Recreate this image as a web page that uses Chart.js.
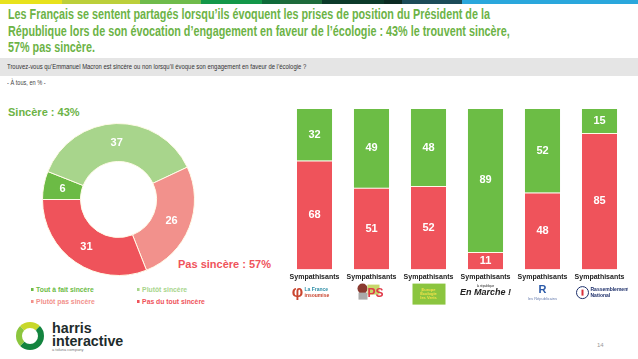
<!DOCTYPE html>
<html>
<head>
<meta charset="utf-8">
<script src="https://cdn.jsdelivr.net/npm/chart.js@4.4.0/dist/chart.umd.min.js"></script>
<style>
body{margin:0;width:638px;height:359px;position:relative;overflow:hidden;background:#fff;font-family:"Liberation Sans",Arial,sans-serif}
.strip{position:absolute;top:0;height:4px}
.sq{position:absolute;transform-origin:0 0;white-space:nowrap}
#title{left:8px;top:6px;color:#6cb346;font-weight:bold;font-size:15px;line-height:16.5px;transform:scaleX(0.72)}
#qbar{position:absolute;left:0;top:58px;width:638px;height:18px;background:#e5e5e5}
#question{left:7px;top:62px;font-size:8px;color:#333;transform:scaleX(0.74)}
#base{left:7px;top:79px;font-size:7px;color:#444;transform:scaleX(0.8)}
#sinc{left:8px;top:106px;font-size:11px;font-weight:bold;color:#6cb346}
#pas{left:178px;top:258px;font-size:11px;font-weight:bold;color:#ef535b}
#legend{position:absolute;left:31px;top:285px;width:230px;font-size:8px;font-weight:bold}
#legend div{position:absolute;white-space:nowrap}
#legend span{display:inline-block;width:3px;height:3px;margin-right:3px;vertical-align:middle}
#pie{position:absolute;left:42px;top:123px;width:153px;height:153px}
#bars{position:absolute;left:286px;top:100px;width:342px;height:215px}
#logo{position:absolute;left:16px;top:322px;width:28px;height:28px;border-radius:50%;box-sizing:border-box;border:6px solid #13843f;border-top-color:#c8d82a;border-left-color:#8cc63e}
#brand{left:52px;top:321px;font-size:15px;font-weight:bold;color:#1d2b2b;line-height:13px;transform:scaleX(0.95)}
#tag{left:52px;top:347px;font-size:4px;color:#777}
#page{left:597px;top:342px;font-size:6px;color:#999}
</style>
</head>
<body>
<div class="strip" style="left:0;width:62px;background:#e8e21c"></div>
<div class="strip" style="left:62px;width:78px;background:#bccf3a"></div>
<div class="strip" style="left:140px;width:61px;background:#6fbb4b"></div>
<div class="strip" style="left:201px;width:61px;background:#139749"></div>
<div class="strip" style="left:262px;width:18px;background:#0f6a3a"></div>
<div class="strip" style="left:280px;width:42px;background:#1e6b3b"></div>
<div class="strip" style="left:322px;width:62px;background:#0c3a2a"></div>
<div class="strip" style="left:384px;width:18px;background:#0b2a22"></div>
<div class="strip" style="left:402px;width:60px;background:#1c4b58"></div>
<div class="strip" style="left:462px;width:176px;background:#2aa7dc"></div>

<div id="title" class="sq">Les Français se sentent partagés lorsqu’ils évoquent les prises de position du Président de la<br>République lors de son évocation d’engagement en faveur de l’écologie : 43% le trouvent sincère,<br>57% pas sincère.</div>
<div id="qbar"></div>
<div id="question" class="sq">Trouvez-vous qu’Emmanuel Macron est sincère ou non lorsqu’il évoque son engagement en faveur de l’écologie ?</div>
<div id="base" class="sq">- À tous, en % -</div>

<div id="sinc" class="sq">Sincère : 43%</div>
<div id="pas" class="sq">Pas sincère : 57%</div>
<canvas id="pie" width="153" height="153"></canvas>
<div id="legend"></div>

<canvas id="bars" width="342" height="215"></canvas>

<div id="logo"></div>
<div id="brand" class="sq">harris<br>interactive</div>
<div id="tag" class="sq">a toluna company</div>
<div id="page" class="sq">14</div>

<script>
// donut: all French people
const pieLabels = ['Tout à fait sincère', 'Plutôt sincère', 'Plutôt pas sincère', 'Pas du tout sincère'];
const pieValues = [6, 37, 26, 31];
const pieColors = ['#6cbb45', '#a8d58c', '#f2918c', '#ef535b'];

// stacked bars by party sympathisers
const barLabels = ['Sympathisants', 'Sympathisants', 'Sympathisants', 'Sympathisants', 'Sympathisants', 'Sympathisants'];
const parties = ['LFI', 'PS', 'EELV', 'LREM', 'LR', 'RN'];
const pasSincere = [68, 51, 52, 11, 48, 85];
const sincere = [32, 49, 48, 89, 52, 15];

const FONT = '"Liberation Sans", Arial, sans-serif';

// legend, two columns
const leg = document.getElementById('legend');
const legPos = [[0, 0], [106, 0], [0, 12], [106, 12]];
pieLabels.forEach((l, i) => {
    const d = document.createElement('div');
    d.style.left = legPos[i][0] + 'px';
    d.style.top = legPos[i][1] + 'px';
    d.style.color = pieColors[i];
    d.style.transform = 'scaleX(0.85)';
    d.style.transformOrigin = '0 0';
    d.innerHTML = '<span style="background:' + pieColors[i] + '"></span>' + l;
    leg.appendChild(d);
});

// write values in the middle of each slice / bar piece
const valueLabels = {
    id: 'valueLabels',
    afterDatasetsDraw(chart) {
        const ctx = chart.ctx;
        ctx.save();
        ctx.fillStyle = '#fff';
        ctx.font = 'bold 11px ' + FONT;
        ctx.textAlign = 'center';
        ctx.textBaseline = 'middle';
        chart.data.datasets.forEach((ds, di) => {
            chart.getDatasetMeta(di).data.forEach((el, i) => {
                let x, y;
                if (chart.config.type === 'doughnut') {
                    const p = el.tooltipPosition();
                    x = p.x; y = p.y;
                } else {
                    x = el.x; y = (el.y + el.base) / 2;
                }
                ctx.fillText(ds.data[i], x, y);
            });
        });
        ctx.restore();
    }
};

new Chart(document.getElementById('pie'), {
    type: 'doughnut',
    data: {
        labels: pieLabels,
        datasets: [{
            data: pieValues,
            backgroundColor: pieColors,
            borderColor: '#fffbe8',
            borderWidth: 1
        }]
    },
    options: {
        responsive: false,
        animation: false,
        rotation: -90,
        cutout: '50%',
        plugins: { legend: { display: false }, tooltip: { enabled: false } }
    },
    plugins: [valueLabels]
});

// party logos drawn under the axis labels
const partyLogos = {
    id: 'partyLogos',
    afterDraw(chart) {
        const ctx = chart.ctx;
        const xs = chart.scales.x;
        const y = chart.chartArea.bottom + 23;
        ctx.save();
        ctx.textBaseline = 'middle';
        parties.forEach((p, i) => {
            const x = xs.getPixelForValue(i);
            if (p === 'LFI') {
                ctx.fillStyle = '#c9452f';
                ctx.font = 'bold 16px ' + FONT;
                ctx.textAlign = 'center';
                ctx.fillText('φ', x - 17, y);
                ctx.textAlign = 'left';
                ctx.font = 'bold 5px ' + FONT;
                ctx.fillStyle = '#2e8ea6';
                ctx.fillText('La France', x - 10, y - 3);
                ctx.fillStyle = '#c9452f';
                ctx.fillText('insoumise', x - 10, y + 3);
            } else if (p === 'PS') {
                ctx.fillStyle = '#8a3a30';
                ctx.beginPath();
                ctx.arc(x - 9, y - 4, 5, 0, Math.PI * 2);
                ctx.fill();
                ctx.fillStyle = '#aaa';
                ctx.fillRect(x - 13, y, 9, 7);
                ctx.fillStyle = '#c8d66a';
                ctx.fillRect(x - 4, y - 8, 12, 10);
                ctx.fillStyle = '#e03a4a';
                ctx.font = 'bold 12px ' + FONT;
                ctx.textAlign = 'left';
                ctx.fillText('PS', x - 4, y + 1);
            } else if (p === 'EELV') {
                ctx.fillStyle = '#8bc53f';
                ctx.fillRect(x - 16, y - 9, 33, 21);
                ctx.fillStyle = '#f3e24a';
                ctx.font = 'bold 4px ' + FONT;
                ctx.textAlign = 'center';
                ctx.fillText('Europe', x, y - 3);
                ctx.fillText('Écologie', x, y + 1);
                ctx.fillText('les Verts', x, y + 5);
            } else if (p === 'LREM') {
                ctx.fillStyle = '#222';
                ctx.textAlign = 'center';
                ctx.font = '3px ' + FONT;
                ctx.fillText('la république', x, y - 6);
                ctx.font = 'italic bold 9px ' + FONT;
                ctx.fillText('En Marche !', x, y);
            } else if (p === 'LR') {
                ctx.fillStyle = '#2b5aa8';
                ctx.textAlign = 'center';
                ctx.font = 'bold 11px ' + FONT;
                ctx.fillText('R', x, y - 3);
                ctx.fillStyle = '#6a7fb0';
                ctx.font = '4px ' + FONT;
                ctx.fillText('les Républicains', x, y + 6);
            } else if (p === 'RN') {
                ctx.strokeStyle = '#1d2f6a';
                ctx.lineWidth = 1;
                ctx.beginPath();
                ctx.arc(x - 17, y, 6, 0, Math.PI * 2);
                ctx.stroke();
                ctx.fillStyle = '#d9303b';
                ctx.fillRect(x - 18, y - 3, 2, 6);
                ctx.fillStyle = '#1d2f6a';
                ctx.textAlign = 'left';
                ctx.font = 'bold 5px ' + FONT;
                ctx.fillText('Rassemblement', x - 9, y - 3);
                ctx.fillText('National', x - 9, y + 3);
            }
        });
        ctx.restore();
    }
};

new Chart(document.getElementById('bars'), {
    type: 'bar',
    data: {
        labels: barLabels,
        datasets: [{
            label: 'Pas sincère',
            data: pasSincere,
            backgroundColor: '#ef535b',
            borderColor: '#fffbe8',
            borderWidth: { top: 1, bottom: 0, left: 0, right: 0 },
            borderSkipped: false,
            barPercentage: 0.615,
            categoryPercentage: 1
        }, {
            label: 'Sincère',
            data: sincere,
            backgroundColor: '#6cbd45',
            borderWidth: 0,
            barPercentage: 0.615,
            categoryPercentage: 1
        }]
    },
    options: {
        responsive: false,
        animation: false,
        layout: { padding: { top: 9, bottom: 31, left: 0, right: 0 } },
        scales: {
            x: {
                stacked: true,
                grid: { display: false, drawTicks: false },
                border: { display: false },
                ticks: { color: '#222', font: { family: FONT, size: 7, weight: 'bold' }, padding: 3, maxRotation: 0, autoSkip: false }
            },
            y: {
                stacked: true,
                display: false,
                min: 0,
                max: 100
            }
        },
        plugins: { legend: { display: false }, tooltip: { enabled: false } }
    },
    plugins: [valueLabels, partyLogos]
});
</script>
</body>
</html>
